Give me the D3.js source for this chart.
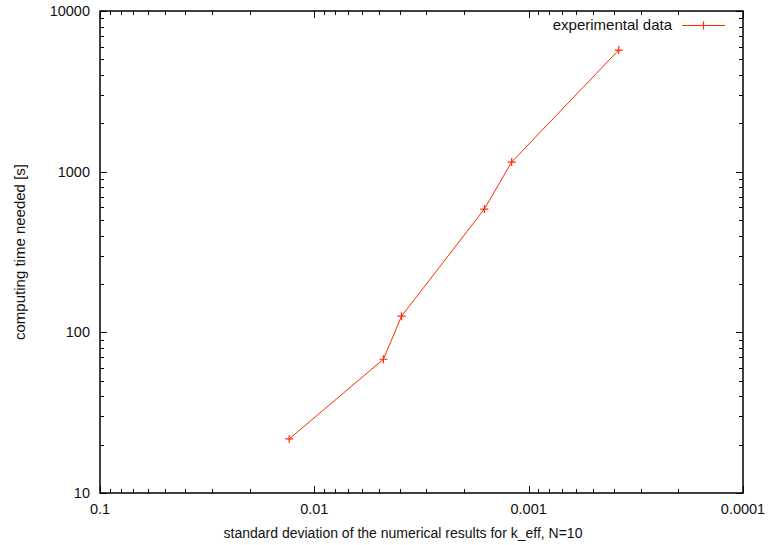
<!DOCTYPE html>
<html>
<head>
<meta charset="utf-8">
<script src="https://cdn.jsdelivr.net/npm/d3@7"></script>
<style>
  body { margin: 0; background: #fff; }
  text { font-family: "Liberation Sans", Arial, Helvetica, sans-serif; fill: #111; }
</style>
</head>
<body>
<div id="chart"></div>
<script>
// data
var stdDev = [0.0131, 0.00476, 0.00392, 0.00161, 0.00120, 0.000380];
var timeNeeded = [21.7, 68, 126, 585, 1148, 5715];
var xTickLabels = ["0.1", "0.01", "0.001", "0.0001"];
var yTickLabels = ["10", "100", "1000", "10000"];
var seriesName = "experimental data";

var width = 769, height = 545;
var margin = { left: 100, right: 26, top: 11, bottom: 52 };

var svg = d3.select("#chart").append("svg")
  .attr("width", width)
  .attr("height", height);

var x = d3.scaleLog().domain([0.1, 0.0001]).range([margin.left, width - margin.right]);
var y = d3.scaleLog().domain([10, 10000]).range([height - margin.bottom, margin.top]);

// minor tick values 2..9 per decade
var xMinor = [], yMinor = [];
[0.0001, 0.001, 0.01].forEach(function (d) {
  for (var k = 2; k <= 9; k++) xMinor.push(d * k);
});
[10, 100, 1000].forEach(function (d) {
  for (var k = 2; k <= 9; k++) yMinor.push(d * k);
});
var xMajor = xTickLabels.map(Number);
var yMajor = yTickLabels.map(Number);

var x0 = x.range()[0], x1 = x.range()[1];
var y0 = y.range()[0], y1 = y.range()[1];
var ticks = svg.append("g").attr("stroke", "#000").attr("stroke-width", 1);

function drawXTicks(vals, len) {
  vals.forEach(function (v) {
    var px = Math.round(x(v)) + 0.5;
    ticks.append("line").attr("x1", px).attr("x2", px).attr("y1", y0).attr("y2", y0 - len);
    ticks.append("line").attr("x1", px).attr("x2", px).attr("y1", y1).attr("y2", y1 + len);
  });
}
function drawYTicks(vals, len) {
  vals.forEach(function (v) {
    var py = Math.round(y(v)) + 0.5;
    ticks.append("line").attr("y1", py).attr("y2", py).attr("x1", x0).attr("x2", x0 + len);
    ticks.append("line").attr("y1", py).attr("y2", py).attr("x1", x1).attr("x2", x1 - len);
  });
}
drawXTicks(xMinor, 4);
drawXTicks(xMajor, 7);
drawYTicks(yMinor, 4);
drawYTicks(yMajor, 7);

// frame
svg.append("rect")
  .attr("x", x0).attr("y", y1)
  .attr("width", x1 - x0).attr("height", y0 - y1)
  .attr("fill", "none").attr("stroke", "#000").attr("stroke-width", 1.5);

// tick labels
svg.selectAll(".xl").data(xMajor).enter().append("text")
  .attr("class", "xl")
  .attr("x", function (d) { return x(d); })
  .attr("y", y0 + 21)
  .attr("text-anchor", "middle")
  .style("font-size", "14.5px")
  .text(function (d, i) { return xTickLabels[i]; });

svg.selectAll(".yl").data(yMajor).enter().append("text")
  .attr("class", "yl")
  .attr("x", x0 - 10)
  .attr("y", function (d) { return y(d) + 5; })
  .attr("text-anchor", "end")
  .style("font-size", "14.5px")
  .text(function (d, i) { return yTickLabels[i]; });

// axis titles
svg.append("text")
  .attr("x", 403)
  .attr("y", 538)
  .attr("text-anchor", "middle")
  .style("font-size", "14px")
  .text("standard deviation of the numerical results for k_eff, N=10");

svg.append("text")
  .attr("transform", "translate(25," + ((y0 + y1) / 2) + ") rotate(-90)")
  .attr("text-anchor", "middle")
  .style("font-size", "15px")
  .text("computing time needed [s]");

// series
var pts = stdDev.map(function (d, i) { return [d, timeNeeded[i]]; });
var lineColor = "#ff2a00";

svg.append("path")
  .datum(pts)
  .attr("fill", "none")
  .attr("stroke", lineColor)
  .attr("stroke-width", 1)
  .attr("d", d3.line().x(function (d) { return x(d[0]); }).y(function (d) { return y(d[1]); }));

function plus(g, cx, cy) {
  g.append("path")
    .attr("d", "M" + (cx - 4) + "," + cy + "H" + (cx + 4) + "M" + cx + "," + (cy - 4) + "V" + (cy + 4))
    .attr("stroke", lineColor)
    .attr("stroke-width", 1.2);
}
var marks = svg.append("g");
pts.forEach(function (d) { plus(marks, x(d[0]), y(d[1])); });

// legend
var legend = svg.append("g");
legend.append("text")
  .attr("x", 672)
  .attr("y", 30)
  .attr("text-anchor", "end")
  .style("font-size", "15px")
  .text(seriesName);
legend.append("line")
  .attr("x1", 682).attr("x2", 725)
  .attr("y1", 25.5).attr("y2", 25.5)
  .attr("stroke", lineColor).attr("stroke-width", 1);
plus(legend, 703.5, 25.5);
</script>
</body>
</html>
